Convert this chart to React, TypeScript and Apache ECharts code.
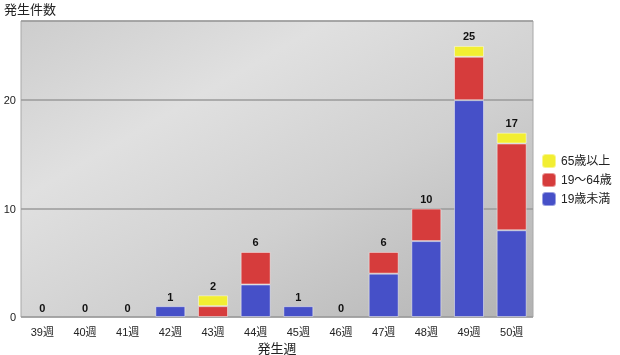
import React, { useEffect, useRef } from "react";
import * as echarts from "echarts";

const categories = ["39週", "40週", "41週", "42週", "43週", "44週", "45週", "46週", "47週", "48週", "49週", "50週"];
const under19 = [0, 0, 0, 1, 0, 3, 1, 0, 4, 7, 20, 8];
const age19to64 = [0, 0, 0, 0, 1, 3, 0, 0, 2, 3, 4, 8];
const over65 = [0, 0, 0, 0, 1, 0, 0, 0, 0, 0, 1, 1];
const seriesNames = ["19歳未満", "19〜64歳", "65歳以上"];
const totals = categories.map((_, i) => under19[i] + age19to64[i] + over65[i]);

const FONT = "'Liberation Sans', 'Noto Sans CJK JP', sans-serif";

const toItems = (arr: number[]) =>
  arr.map((v) => (v === 0 ? { value: 0, itemStyle: { borderWidth: 0, opacity: 0 } } : v));

export default function App() {
  const ref = useRef<HTMLDivElement>(null);
  useEffect(() => {
    if (!ref.current) return;
    const chart = echarts.init(ref.current, null, { renderer: "svg" });
    const barBase = {
      type: "bar" as const,
      stack: "total",
      barWidth: 30,
    };
    const edge = { borderColor: "rgba(255,255,255,0.45)", borderWidth: 1 };
    chart.setOption({
      animation: false,
      textStyle: { fontFamily: FONT },
      grid: {
        left: 21,
        top: 21,
        width: 512,
        height: 296,
        containLabel: false,
        outerBoundsMode: "none",
        show: true,
        borderColor: "#a8a8a8",
        borderWidth: 1,
        backgroundColor: new echarts.graphic.LinearGradient(0, 0, 1, 1, [
          { offset: 0, color: "#cdcdcd" },
          { offset: 0.3, color: "#e0e0e0" },
          { offset: 0.6, color: "#d0d0d0" },
          { offset: 1, color: "#b2b2b2" },
        ]),
      },
      graphic: [
        {
          type: "text",
          left: 4,
          top: 3,
          style: { text: "発生件数", fontSize: 13, fill: "#222", fontFamily: FONT },
        },
      ],
      legend: {
        orient: "vertical",
        left: 541,
        top: 153,
        padding: 0,
        itemWidth: 14,
        itemHeight: 14,
        itemGap: 3,
        data: [seriesNames[2], seriesNames[1], seriesNames[0]],
        textStyle: { fontSize: 12, color: "#222", fontFamily: FONT },
      },
      xAxis: {
        type: "category",
        data: categories,
        name: "発生週",
        nameLocation: "middle",
        nameGap: 24,
        nameTextStyle: { fontSize: 13, color: "#222", fontFamily: FONT },
        axisLine: { show: false },
        axisTick: { show: false },
        axisLabel: { fontSize: 11, color: "#222", margin: 9 },
      },
      yAxis: {
        type: "value",
        min: 0,
        max: 27.3,
        interval: 10,
        axisLine: { show: false },
        axisTick: { show: false },
        axisLabel: { fontSize: 11, color: "#222", margin: 5, showMaxLabel: false },
        splitLine: { lineStyle: { color: "#9a9a9a", width: 1.5 } },
      },
      series: [
        { ...barBase, name: seriesNames[0], data: toItems(under19), itemStyle: { ...edge, color: "#4650c8" } },
        { ...barBase, name: seriesNames[1], data: toItems(age19to64), itemStyle: { ...edge, color: "#d63c3c" } },
        {
          ...barBase,
          name: seriesNames[2],
          data: over65.map((v) => (v === 0 ? { value: 0, itemStyle: { borderWidth: 0, color: "rgba(0,0,0,0)" } } : v)),
          itemStyle: { ...edge, color: "#f2ee32" },
          label: {
            show: true,
            position: "top",
            distance: 4,
            fontSize: 11,
            fontWeight: "bold",
            color: "#111",
            formatter: (p: any) => String(totals[p.dataIndex]),
          },
        },
      ],
    });
    return () => chart.dispose();
  }, []);
  return <div ref={ref} style={{ position: "fixed", left: 0, top: 0, width: 620, height: 355 }} />;
}
